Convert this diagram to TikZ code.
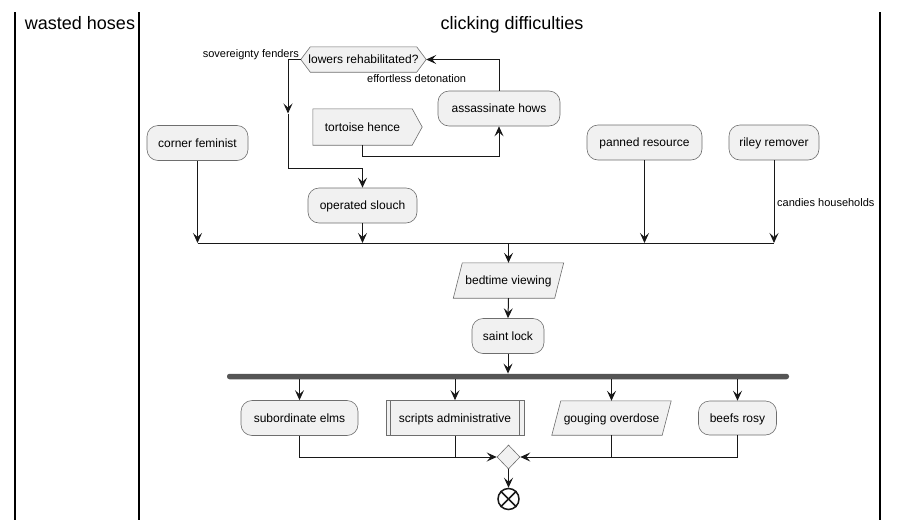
\documentclass[tikz,border=0pt]{standalone}
\usepackage{fontspec}
\setmainfont{Liberation Sans}
\usetikzlibrary{arrows.meta,shapes.geometric}
\pgfdeclarelayer{bg}
\pgfsetlayers{bg,main}
\definecolor{nfill}{HTML}{F1F1F1}
\definecolor{nline}{HTML}{6E6E6E}
\definecolor{cline}{HTML}{181818}
\definecolor{barc}{HTML}{555555}
\tikzset{
  lane/.style={draw=black, line width=1.4pt},
  title/.style={font=\fontsize{18}{21}\selectfont, anchor=base, inner sep=0pt},
  lbl/.style={font=\fontsize{11}{13}\selectfont, inner sep=0pt},
  act/.style={draw=nline, fill=nfill, line width=0.6pt, rounded corners=11pt,
    minimum height=35pt, inner sep=0pt, text height=8.7pt, text depth=0pt,
    font=\fontsize{12}{14}\selectfont},
  plain/.style={inner sep=0pt, minimum height=35pt, text height=8.7pt, text depth=0pt,
    font=\fontsize{12}{14}\selectfont},
  shp/.style={draw=nline, fill=nfill, line width=0.6pt},
  line/.style={draw=cline, line width=1pt},
  flow/.style={line, -{Stealth[length=10pt,width=9pt,inset=4pt]}},
}
\begin{document}
\begin{tikzpicture}[x=1pt,y=-1pt]
\useasboundingbox (0,0) rectangle (898,520);
% lanes
\draw[lane] (15,12) -- (15,520);
\draw[lane] (139,12) -- (139,520);
\draw[lane] (880,12) -- (880,520);
\node[title] (t1) at (80,29.5) {wasted hoses};
\node[title] (t2) at (512,29.5) {clicking difficulties};

% top part
\node[plain, minimum width=125pt, minimum height=25pt] (hex) at (363.5,59.5) {lowers rehabilitated?};
\begin{pgfonlayer}{bg}
\draw[shp] (hex.west) -- ([xshift=9.5pt]hex.north west) -- ([xshift=-9.5pt]hex.north east)
  -- (hex.east) -- ([xshift=-9.5pt]hex.south east) -- ([xshift=9.5pt]hex.south west) -- cycle;
\end{pgfonlayer}
\node[act, minimum width=122pt] (ah) at (499,108.5) {assassinate hows};
\node[plain, minimum width=99pt, minimum height=36pt] (th) at (362.5,127) {tortoise hence};
\begin{pgfonlayer}{bg}
\draw[shp] (th.north west) -- (th.north east) -- ([xshift=10pt]th.east) -- (th.south east) -- (th.south west) -- cycle;
\end{pgfonlayer}
\node[act, minimum width=101pt] (cf) at (197.5,143) {corner feminist};
\node[act, minimum width=109pt] (os) at (362.5,205.5) {operated slouch};
\node[act, minimum width=115pt] (pr) at (644.5,142.5) {panned resource};
\node[act, minimum width=90pt] (rr) at (774,142.5) {riley remover};

\node[lbl, anchor=base east] (l1) at (299,57) {sovereignty fenders};
\node[lbl, anchor=base west] (l2) at (367,82.5) {effortless detonation};
\node[lbl, anchor=base west] (l3) at (777,206.5) {candies households};

\coordinate (lb1) at (288,59.5);
\coordinate (lbm) at (288,113.5);
\coordinate (lb2) at (288,168);
\coordinate (tb) at (362.5,156);
\coordinate (mj) at (508.5,243);

\draw[flow] (hex.west) -- (lb1) -- (lbm);
\draw[flow] (lbm) -- (lb2) -| (os.north);
\draw[flow] (ah.north) |- (hex.east);
\draw[flow] (th.south) -- (tb) -| (ah.south);

\draw[line] (cf.south |- mj) -- (rr.south |- mj);
\draw[flow] (cf.south) -- (cf.south |- mj);
\draw[flow] (os.south) -- (os.south |- mj);
\draw[flow] (pr.south) -- (pr.south |- mj);
\draw[flow] (rr.south) -- (rr.south |- mj);

% middle
\node[plain, minimum width=101pt] (bv) at (508.5,280.5) {bedtime viewing};
\begin{pgfonlayer}{bg}
\draw[shp] ([xshift=4.5pt]bv.north west) -- ([xshift=4.5pt]bv.north east)
  -- ([xshift=-4.5pt]bv.south east) -- ([xshift=-4.5pt]bv.south west) -- cycle;
\end{pgfonlayer}
\draw[flow] (mj) -- (bv.north);
\node[act, minimum width=72pt] (sl) at (508,336) {saint lock};
\draw[flow] (bv.south) -- (sl.north);
\node[fill=barc, rounded corners=2.5pt, minimum width=562pt, minimum height=5.5pt, inner sep=0pt] (bar) at (508,376.5) {};
\draw[flow] (sl.south) -- (bar.north -| sl.south);

% bottom row
\node[act, minimum width=117pt] (se) at (299.5,418) {subordinate elms};
\node[act, rounded corners=0pt, minimum width=138pt] (sa) at (455,418) {scripts administrative};
\draw[draw=nline, line width=0.6pt] ([xshift=5pt]sa.north west) -- ([xshift=5pt]sa.south west);
\draw[draw=nline, line width=0.6pt] ([xshift=-5pt]sa.north east) -- ([xshift=-5pt]sa.south east);
\node[plain, minimum width=110pt, minimum height=34pt] (go) at (611.5,418) {gouging overdose};
\begin{pgfonlayer}{bg}
\draw[shp] ([xshift=4.5pt]go.north west) -- ([xshift=4.5pt]go.north east)
  -- ([xshift=-4.5pt]go.south east) -- ([xshift=-4.5pt]go.south west) -- cycle;
\end{pgfonlayer}
\node[act, minimum width=78pt, minimum height=34pt] (br) at (737.5,418) {beefs rosy};

\draw[flow] (bar.south -| se.north) -- (se.north);
\draw[flow] (bar.south -| sa.north) -- (sa.north);
\draw[flow] (bar.south -| go.north) -- (go.north);
\draw[flow] (bar.south -| br.north) -- (br.north);

\node[diamond, draw=nline, fill=nfill, line width=0.6pt, minimum width=23pt, minimum height=24pt, inner sep=0pt] (dm) at (508.5,457) {};
\draw[flow] (se.south) |- (dm.west);
\draw[line] (sa.south) -- (sa.south |- dm.west);
\draw[flow] (br.south) |- (dm.east);
\draw[line] (go.south) -- (go.south |- dm.east);

\node[circle, draw=cline, line width=1.5pt, fill=white, minimum size=21pt, inner sep=0pt] (end) at (508.5,499) {};
\draw[draw=cline, line width=1.5pt] (end.north west) -- (end.south east);
\draw[draw=cline, line width=1.5pt] (end.north east) -- (end.south west);
\draw[flow] (dm.south) -- (end.north);
\end{tikzpicture}
\end{document}
